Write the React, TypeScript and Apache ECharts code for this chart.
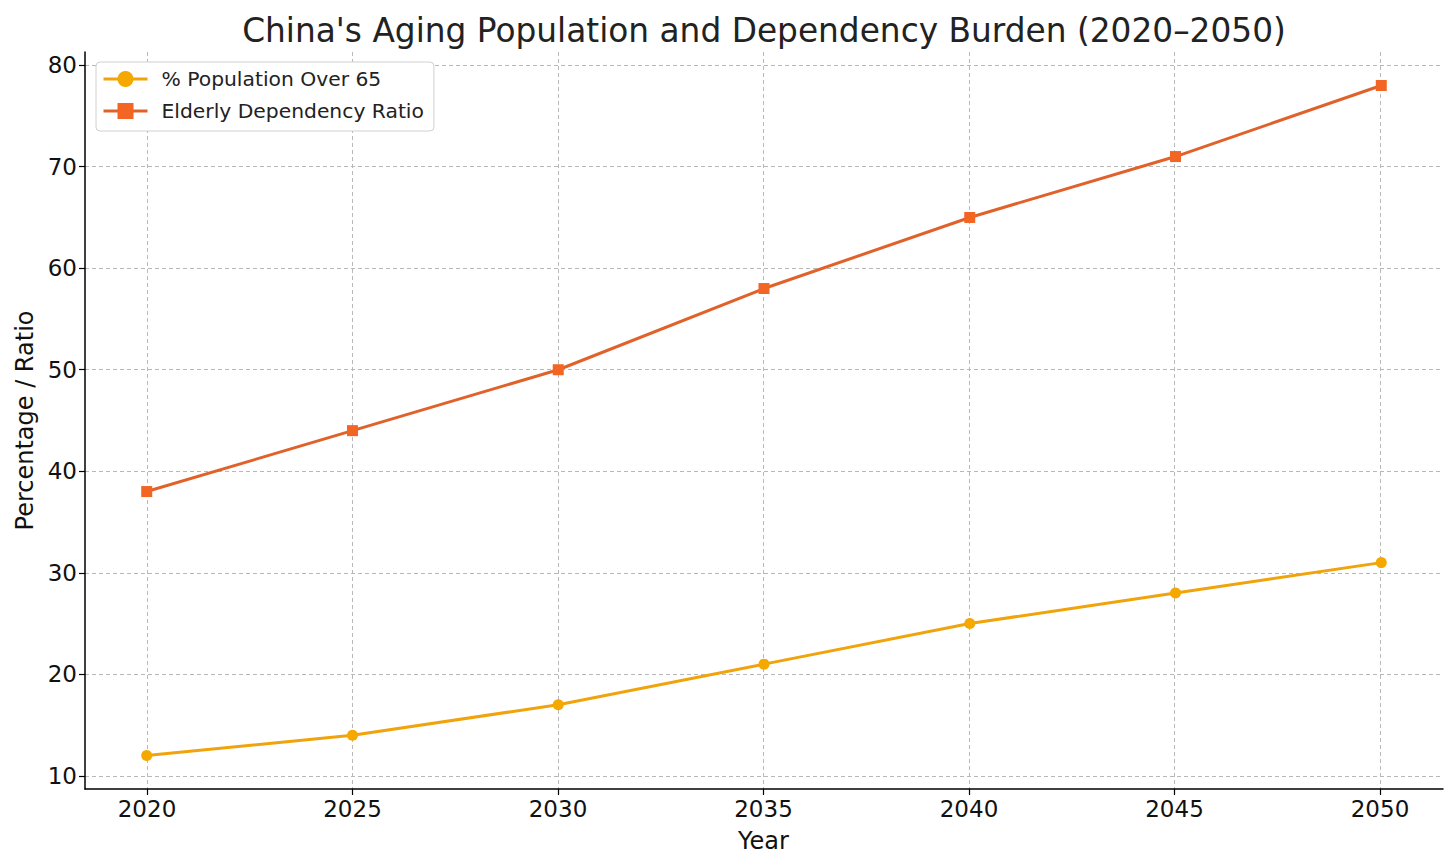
import React, { useEffect, useRef } from "react";
import * as echarts from "echarts";

const years = [2020, 2025, 2030, 2035, 2040, 2045, 2050];
const over65 = [12, 14, 17, 21, 25, 28, 31];
const dependency = [38, 44, 50, 58, 65, 71, 78];
const seriesNames = ["% Population Over 65", "Elderly Dependency Ratio"];
const titleText = "China's Aging Population and Dependency Burden (2020\u20132050)";

const FONT = "DejaVu Sans";

export default function App() {
  const ref = useRef<HTMLDivElement>(null);
  useEffect(() => {
    if (!ref.current) return;
    const chart = echarts.init(ref.current, undefined, { renderer: "svg" });
    const gridLine = { show: true, lineStyle: { color: "#b8b8b8", type: [4, 3], width: 1 } };
    const tick = { show: true, inside: false, length: 6, lineStyle: { color: "#000", width: 1.2 } };
    chart.setOption({
      animation: false,
      backgroundColor: "#fff",
      title: {
        text: titleText,
        left: 759,
        top: 9,
        textAlign: "center",
        textStyle: { fontFamily: FONT, fontSize: 32.8, fontWeight: "normal", color: "#222" },
      },
      legend: {
        orient: "vertical",
        left: 96,
        top: 62,
        padding: [7, 10, 10, 6],
        itemWidth: 44,
        itemHeight: 20,
        itemGap: 12,
        backgroundColor: "#fff",
        borderColor: "#d0d0d0",
        borderWidth: 1,
        borderRadius: 4,
        lineStyle: { width: 3 },
        textStyle: { fontFamily: FONT, fontSize: 20.3, lineHeight: 20, color: "#222", padding: [0, 0, 0, 9] },
        data: seriesNames,
      },
      grid: [
        { left: 85, right: 13, top: 52, bottom: 79 },
        { left: 147, right: 76, top: 52, bottom: 79 },
        { left: 85, right: 13, top: 65, bottom: 92 },
      ],
      xAxis: [
        {
          type: "value", gridIndex: 0, min: 2018.5, max: 2051.5,
          axisLine: { show: true, onZero: false, lineStyle: { color: "#000", width: 1.5 } },
          axisTick: { show: false }, axisLabel: { show: false }, splitLine: { show: false },
        },
        {
          type: "value", gridIndex: 1, min: 2020, max: 2050, interval: 5,
          axisLine: { show: false },
          axisTick: tick,
          axisLabel: { show: true, margin: 8, fontFamily: FONT, fontSize: 23, color: "#111", formatter: (v: number) => String(v) },
          splitLine: gridLine,
          name: "Year", nameLocation: "middle", nameGap: 40,
          nameTextStyle: { fontFamily: FONT, fontSize: 24, color: "#111" },
        },
        { type: "value", gridIndex: 2, min: 0, max: 1, show: false },
      ],
      yAxis: [
        {
          type: "value", gridIndex: 0, min: 8.7, max: 81.3,
          axisLine: { show: true, onZero: false, lineStyle: { color: "#000", width: 1.5 } },
          axisTick: { show: false }, axisLabel: { show: false }, splitLine: { show: false },
        },
        { type: "value", gridIndex: 1, min: 0, max: 1, show: false },
        {
          type: "value", gridIndex: 2, min: 10, max: 80, interval: 10,
          axisLine: { show: false },
          axisTick: tick,
          axisLabel: { show: true, margin: 8, fontFamily: FONT, fontSize: 23, color: "#111" },
          splitLine: gridLine,
          name: "Percentage / Ratio", nameLocation: "middle", nameGap: 48,
          nameTextStyle: { fontFamily: FONT, fontSize: 24, color: "#111" },
        },
      ],
      series: [
        {
          name: seriesNames[0], type: "line", xAxisIndex: 0, yAxisIndex: 0,
          data: years.map((y, i) => [y, over65[i]]),
          symbol: "circle", symbolSize: 11,
          lineStyle: { color: "#f0a30a", width: 3 },
          itemStyle: { color: "#f5a800" },
          z: 5,
        },
        {
          name: seriesNames[1], type: "line", xAxisIndex: 0, yAxisIndex: 0,
          data: years.map((y, i) => [y, dependency[i]]),
          symbol: "rect", symbolSize: 11,
          lineStyle: { color: "#e0622a", width: 3 },
          itemStyle: { color: "#f26522" },
          z: 5,
        },
      ],
    });
    return () => chart.dispose();
  }, []);
  return (
    <div
      ref={ref}
      style={{ position: "fixed", left: 0, top: 0, width: 1456, height: 868 }}
    />
  );
}
